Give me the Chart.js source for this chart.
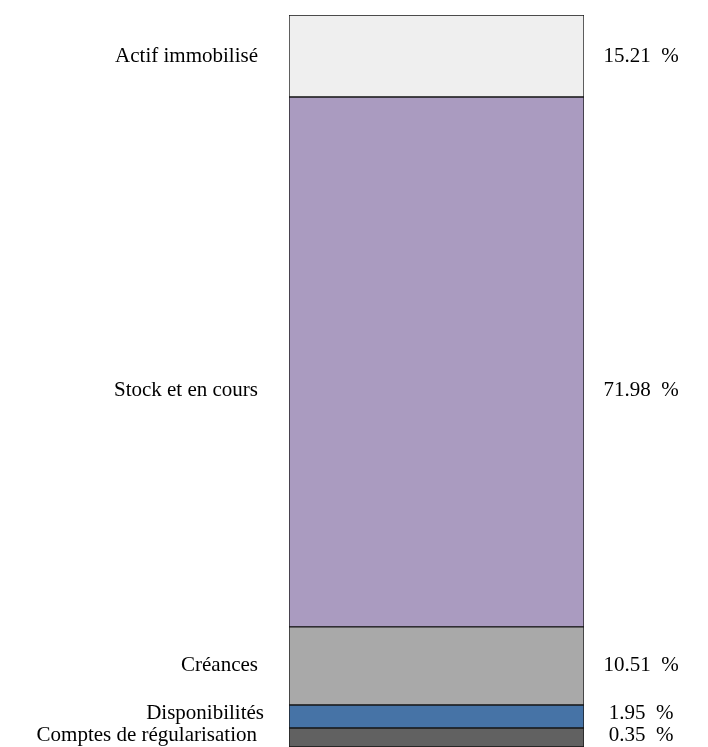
<!DOCTYPE html>
<html lang="fr">
<head>
    <meta charset="UTF-8">
    <title>Structure de l'actif</title>
    <script src="https://cdn.jsdelivr.net/npm/chart.js"></script>
    <style>
        body {
            margin: 0;
            background: #fff;
        }
        #chartBox {
            width: 708px;
            height: 747px;
        }
    </style>
</head>
<body>
    <div id="chartBox">
        <canvas id="actifChart"></canvas>
    </div>

    <script>
        // postes de l'actif, du haut vers le bas de la colonne
        const postes = ['Actif immobilisé', 'Stock et en cours', 'Créances', 'Disponibilités', 'Comptes de régularisation'];
        // pourcentages affichés à droite
        const pourcentages = [15.21, 71.98, 10.51, 1.95, 0.35];
        // part de hauteur occupée par chaque bloc dans la colonne
        const hauteurs = [11.2, 72.4, 10.66, 3.14, 2.6];
        const couleurs = ['#efefef', '#aa9bc0', '#a9a9a9', '#4673a6', '#616161'];

        // Chart.js empile depuis le bas : on inverse l'ordre
        const datasets = postes.map((nom, i) => ({
            label: nom,
            data: [hauteurs[i]],
            backgroundColor: couleurs[i],
            borderColor: '#151515',
            borderWidth: 1,
            borderSkipped: false,
            pct: pourcentages[i]
        })).reverse();

        const etiquettes = {
            id: 'etiquettes',
            afterDatasetsDraw(chart, args, opts) {
                const ctx = chart.ctx;
                const area = chart.chartArea;
                ctx.save();
                ctx.fillStyle = '#000';
                ctx.font = '21px "Liberation Serif", "Times New Roman", serif';
                ctx.textBaseline = 'middle';
                chart.data.datasets.forEach((ds, i) => {
                    const bar = chart.getDatasetMeta(i).data[0];
                    const idx = postes.indexOf(ds.label);
                    const y = (bar.y + bar.base) / 2 + (opts.decalage[idx] || 0);
                    ctx.textAlign = 'right';
                    ctx.fillText(ds.label, area.left - opts.ecartGauche[idx], y);
                    ctx.textAlign = 'center';
                    ctx.fillText(ds.pct.toFixed(2) + '  %', area.right + 57, y);
                });
                ctx.restore();
            }
        };

        new Chart(document.getElementById('actifChart'), {
            type: 'bar',
            data: {
                labels: [''],
                datasets: datasets
            },
            options: {
                responsive: true,
                maintainAspectRatio: false,
                animation: false,
                layout: {
                    padding: { top: 15, bottom: 0, left: 289, right: 124 }
                },
                datasets: {
                    bar: { barPercentage: 1, categoryPercentage: 1 }
                },
                scales: {
                    x: { stacked: true, display: false },
                    y: { stacked: true, display: false, min: 0, max: 100 }
                },
                plugins: {
                    legend: { display: false },
                    tooltip: { enabled: false },
                    etiquettes: {
                        decalage: [0, 29, 0, -3, -2],
                        ecartGauche: [31, 31, 31, 25, 32]
                    }
                }
            },
            plugins: [etiquettes]
        });
    </script>
</body>
</html>
